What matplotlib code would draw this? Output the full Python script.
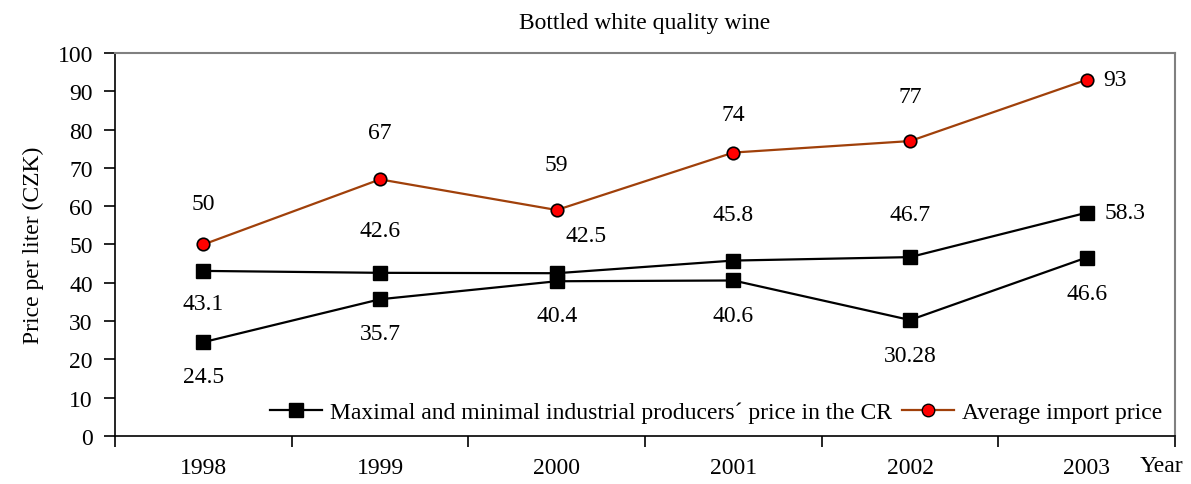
import matplotlib.pyplot as plt
from matplotlib.lines import Line2D

years = ['1998', '1999', '2000', '2001', '2002', '2003']
max_price = [43.1, 42.6, 42.5, 45.8, 46.7, 58.3]
min_price = [24.5, 35.7, 40.4, 40.6, 30.28, 46.6]
import_price = [50, 67, 59, 74, 77, 93]
min_labels = ['24.5', '35.7', '40.4', '40.6', '30.28', '46.6']

plt.rcParams['font.family'] = ['Liberation Serif', 'DejaVu Serif']
plt.rcParams['font.size'] = 17

fig = plt.figure(figsize=(11.91, 4.85), dpi=100)
ax = fig.add_axes([0.0966, 0.099, 0.89, 0.7897])

x = list(range(len(years)))
brown = '#a0400a'

ax.plot(x, max_price, color='black', lw=1.6, marker='s', ms=9.5, mfc='black', mec='black', zorder=3)
ax.plot(x, min_price, color='black', lw=1.6, marker='s', ms=9.5, mfc='black', mec='black', zorder=3)
ax.plot(x, import_price, color=brown, lw=1.6, marker='o', ms=9, mfc='#ff0000', mec='black', mew=1.2, zorder=4)

# label offsets in pixels (dx, dy)
imp_off = [(0, 41), (0, 47), (0, 46), (0, 38), (0, 45), (28, 0)]
max_off = [(0, -33), (0, 42), (29, 38), (0, 46), (0, 43), (38, 0)]
min_off = [(0, -34), (0, -34), (0, -34), (0, -35), (0, -35), (0, -36)]

for i in x:
    ax.annotate(str(import_price[i]), (i, import_price[i]), xytext=imp_off[i],
                textcoords='offset pixels', ha='center', va='center')
    ax.annotate(str(max_price[i]), (i, max_price[i]), xytext=max_off[i],
                textcoords='offset pixels', ha='center', va='center')
    ax.annotate(min_labels[i], (i, min_price[i]), xytext=min_off[i],
                textcoords='offset pixels', ha='center', va='center')

ax.set_xlim(-0.5, 5.5)
ax.set_ylim(0, 100)
ax.set_yticks(range(0, 101, 10))
ax.set_xticks([i - 0.5 for i in range(len(years) + 1)])
ax.set_xticklabels([])
ax.set_xticks(x, minor=True)
ax.set_xticklabels(years, minor=True)
ax.tick_params(axis='x', which='major', direction='out', length=8, width=1.2)
ax.tick_params(axis='x', which='minor', length=0, pad=15)
ax.tick_params(axis='y', direction='out', length=8, width=1.2, pad=8)

for s in ['left', 'bottom']:
    ax.spines[s].set_color('black')
    ax.spines[s].set_linewidth(1.2)
for s in ['top', 'right']:
    ax.spines[s].set_color('#808080')
    ax.spines[s].set_linewidth(1.5)

ax.set_title('Bottled white quality wine', fontsize=17, pad=18)
ax.set_ylabel('Price per liter (CZK)', labelpad=10)
fig.text(0.975, 0.038, 'Year', ha='center', va='center', fontsize=17)

handles = [
    Line2D([], [], color='black', lw=1.6, marker='s', ms=9.5, mfc='black'),
    Line2D([], [], color=brown, lw=1.6, marker='o', ms=9, mfc='#ff0000', mec='black'),
]
ax.legend(handles, ['Maximal and minimal industrial producers\u00b4 price in the CR', 'Average import price'],
          loc='lower right', bbox_to_anchor=(1.0, 0.0), ncol=2, frameon=False,
          handlelength=2.2, handletextpad=0.35, columnspacing=0.4, borderaxespad=0.15)

fig.savefig('out.png', dpi=100)
